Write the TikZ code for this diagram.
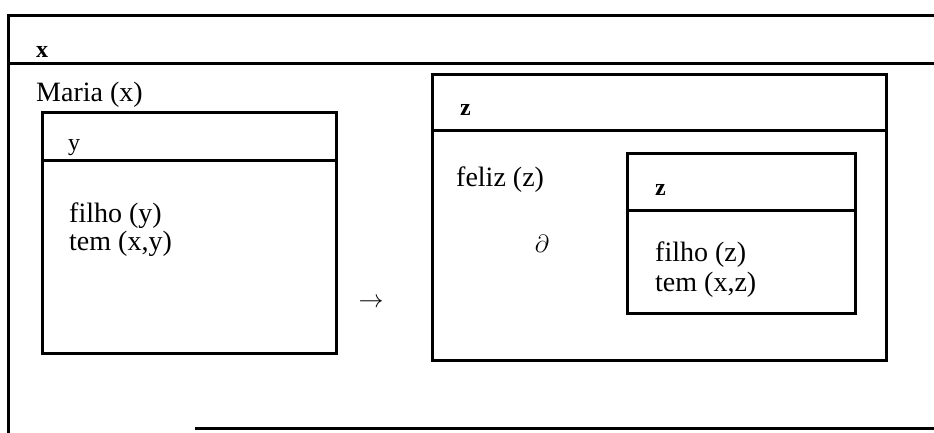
\documentclass[tikz,border=0pt]{standalone}
\usepackage{fontspec}
\setmainfont{Liberation Serif}
\begin{document}
\begin{tikzpicture}[x=1pt,y=-1pt,
  drsline/.style={line width=3pt,line cap=rect},
  lbl/.style={anchor=base west,inner sep=0pt,font=\fontsize{28}{32}\selectfont},
  hdr/.style={anchor=base west,inner sep=0pt,font=\bfseries\fontsize{24}{28}\selectfont}]
\useasboundingbox (0,0) rectangle (934,432);
% outer box
\draw[drsline] (934,15) -- (8,15) -- (8,432);
\draw[drsline] (8,63) -- (934,63);
\draw[drsline] (196,428) -- (934,428);
\node[hdr] (xl) at (36,57) {x};
\node[lbl] (maria) at (36,101) {Maria (x)};
% left box
\draw[drsline] (42,112) rectangle (336,353);
\draw[drsline] (42,160) -- (336,160);
\node[lbl,font=\fontsize{24}{28}\selectfont] (yl) at (68,150) {y};
\node[lbl] (filhoy) at (69,222) {filho (y)};
\node[lbl] (temxy) at (69,250) {tem (x,y)};
% arrow
\node[inner sep=0pt,font=\fontsize{26}{30}\selectfont] (arr) at (371,303) {$\rightarrow$};
% right box
\draw[drsline] (432,74) rectangle (886,360);
\draw[drsline] (432,130) -- (886,130);
\node[hdr] (zl) at (460,115) {z};
\node[lbl] (feliz) at (456,186) {feliz (z)};
\node[inner sep=0pt,anchor=base,font=\fontsize{26}{30}\selectfont] (part) at (542,252) {$\partial$};
% inner box
\draw[drsline] (627,153) rectangle (855,313);
\draw[drsline] (627,210) -- (855,210);
\node[hdr] (zil) at (655,195) {z};
\node[lbl] (filhoz) at (655,261) {filho (z)};
\node[lbl] (temxz) at (655,291) {tem (x,z)};
\end{tikzpicture}
\end{document}
